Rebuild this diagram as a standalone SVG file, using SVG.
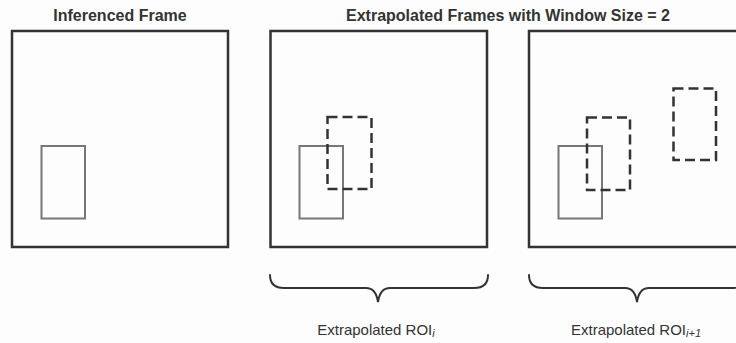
<svg xmlns="http://www.w3.org/2000/svg" width="736" height="343" viewBox="0 0 736 343">
  <style>
    .title { font-family: "Liberation Sans", Arial, sans-serif; font-weight: bold; font-size: 16px; fill: #333; }
    .label { font-family: "Liberation Sans", Arial, sans-serif; font-size: 15px; fill: #333; }
    .sub { font-style: italic; font-size: 11px; }
    .frame { fill: none; stroke: #333; stroke-width: 2.5; }
    .roi { fill: none; stroke: #777; stroke-width: 2; }
    .pred { fill: none; stroke: #333; stroke-width: 2.5; stroke-dasharray: 10 5; }
    .brace { fill: none; stroke: #333; stroke-width: 2; stroke-linecap: round; }
  </style>
  <rect width="736" height="343" fill="#fdfdfd"/>

  <text class="title" x="120" y="21" text-anchor="middle">Inferenced Frame</text>
  <text class="title" x="508" y="21" text-anchor="middle">Extrapolated Frames with Window Size = 2</text>

  <!-- inferenced frame with detected ROI -->
  <g id="frame-inferenced">
    <rect class="frame" x="12" y="31" width="216" height="216"/>
    <rect class="roi" x="41.5" y="146" width="43.5" height="72.5"/>
  </g>

  <!-- first extrapolated frame -->
  <g id="frame-extrapolated-1">
    <rect class="frame" x="270.5" y="31" width="216.5" height="216"/>
    <rect class="roi" x="299.5" y="146" width="43.5" height="72.5"/>
    <rect class="pred" x="327.5" y="117" width="44" height="72"/>
  </g>

  <!-- second extrapolated frame -->
  <g id="frame-extrapolated-2">
    <rect class="frame" x="529" y="31" width="217" height="216"/>
    <rect class="roi" x="558.5" y="146" width="43.5" height="72.5"/>
    <rect class="pred" x="587" y="117.5" width="43" height="72.5"/>
    <rect class="pred" x="673.5" y="88.5" width="42.5" height="71.5"/>
  </g>

  <!-- braces grouping each extrapolated frame -->
  <g id="connectors">
    <path class="brace" d="M270 275 Q270 288 284 288 L366 288 Q376 288 378 302 Q380 288 390 288 L474 288 Q488 288 488 275"/>
    <path class="brace" d="M529 275 Q529 288 543 288 L625 288 Q635 288 637 302 Q639 288 649 288 L733 288 Q747 288 747 275"/>
  </g>

  <g id="label-roi-i">
    <text class="label" x="376" y="335" text-anchor="middle">Extrapolated ROI<tspan class="sub" dy="2">i</tspan></text>
  </g>
  <g id="label-roi-i1">
    <text class="label" x="636" y="335" text-anchor="middle">Extrapolated ROI<tspan class="sub" dy="2">i+1</tspan></text>
  </g>
</svg>
